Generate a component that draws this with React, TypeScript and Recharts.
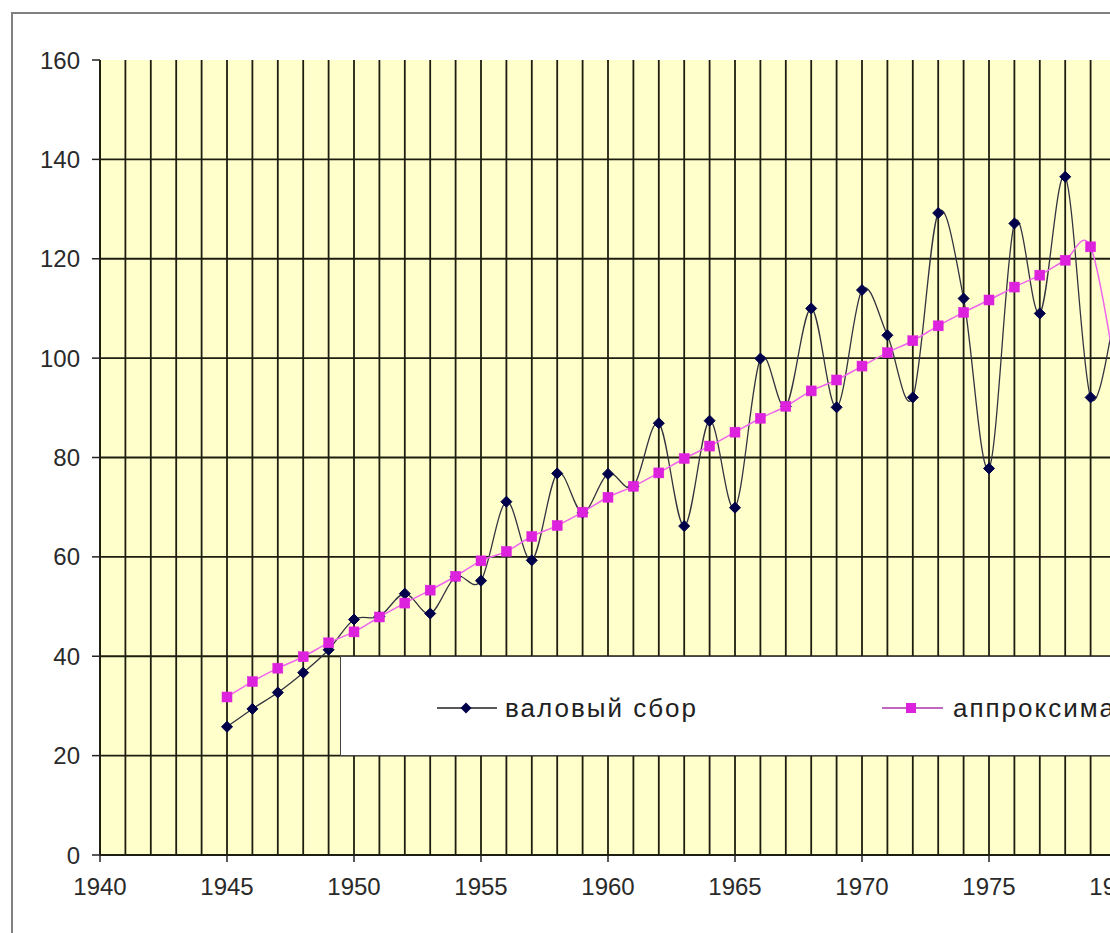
import React from "react";
import { LineChart, Line, XAxis, YAxis, CartesianGrid } from "recharts";

const years = [
  1945, 1946, 1947, 1948, 1949, 1950, 1951, 1952, 1953, 1954, 1955, 1956,
  1957, 1958, 1959, 1960, 1961, 1962, 1963, 1964, 1965, 1966, 1967, 1968,
  1969, 1970, 1971, 1972, 1973, 1974, 1975, 1976, 1977, 1978, 1979, 1980,
];
const grossHarvest = [
  25.8, 29.4, 32.7, 36.7, 41.3, 47.4, 48.0, 52.6, 48.6, 56.0, 55.2, 71.1,
  59.3, 76.8, 68.9, 76.7, 74.2, 86.9, 66.2, 87.4, 69.9, 99.9, 90.3, 110.0,
  90.1, 113.7, 104.6, 92.1, 129.2, 112.0, 77.8, 127.1, 109.0, 136.5, 92.1, 110,
];
const approximation = [
  31.8, 34.9, 37.6, 39.9, 42.7, 44.9, 47.9, 50.7, 53.3, 56.1, 59.2, 61.1,
  64.1, 66.3, 69.0, 72.0, 74.2, 76.9, 79.8, 82.3, 85.1, 87.9, 90.3, 93.4,
  95.6, 98.4, 101.1, 103.5, 106.5, 109.2, 111.7, 114.3, 116.7, 119.7, 122.4, 97,
];
const seriesNames = ["валовый сбор", "аппроксимация"];
const yTicks = [0, 20, 40, 60, 80, 100, 120, 140, 160];
const yGrid = [20, 40, 60, 80, 100, 120, 140];
const Y_MAX = 160;
const xTicks: number[] = [];
for (let y = 1940; y <= 1990; y++) xTicks.push(y);

const data = years.map((year, i) => ({
  year,
  gross: grossHarvest[i],
  approx: approximation[i],
}));

const FONT = "Arial, 'Liberation Sans', sans-serif";
const NAVY = "#00004a";
const MAGENTA = "#dd22dd";

// Excel-like smoothed line (Catmull-Rom / cardinal spline)
function smoothCurve(context: any) {
  let pts: number[][] = [];
  return {
    areaStart() {},
    areaEnd() {},
    lineStart() {
      pts = [];
    },
    point(x: number, y: number) {
      pts.push([+x, +y]);
    },
    lineEnd() {
      const n = pts.length;
      if (!n) return;
      context.moveTo(pts[0][0], pts[0][1]);
      for (let i = 0; i < n - 1; i++) {
        const p0 = pts[Math.max(i - 1, 0)];
        const p1 = pts[i];
        const p2 = pts[i + 1];
        const p3 = pts[Math.min(i + 2, n - 1)];
        context.bezierCurveTo(
          p1[0] + (p2[0] - p0[0]) / 6,
          p1[1] + (p2[1] - p0[1]) / 6,
          p2[0] - (p3[0] - p1[0]) / 6,
          p2[1] - (p3[1] - p1[1]) / 6,
          p2[0],
          p2[1]
        );
      }
    },
  };
}

const horizontalGen = (args: any) => {
  const { yAxis, offset } = args || {};
  if (yAxis && typeof yAxis.scale === "function") {
    return yGrid.map((v) => yAxis.scale(v));
  }
  return yGrid.map((v) => offset.top + offset.height * (1 - v / Y_MAX));
};

const Diamond = (props: any) => {
  const { cx, cy, index } = props;
  if (cx == null || cy == null) return <g key={`d${index}`} />;
  const r = 5.5;
  return (
    <path
      key={`d${index}`}
      d={`M${cx},${cy - r}L${cx + r},${cy}L${cx},${cy + r}L${cx - r},${cy}Z`}
      fill={NAVY}
      stroke={NAVY}
      strokeWidth={1}
    />
  );
};

const Square = (props: any) => {
  const { cx, cy, index } = props;
  if (cx == null || cy == null) return <g key={`s${index}`} />;
  const s = 5;
  return (
    <rect
      key={`s${index}`}
      x={cx - s}
      y={cy - s}
      width={2 * s}
      height={2 * s}
      fill={MAGENTA}
      stroke={MAGENTA}
      strokeWidth={0.5}
    />
  );
};

const XTick = (props: any) => {
  const { x, y, payload } = props;
  const v = payload.value;
  if (v % 5 !== 0) return <g />;
  return (
    <g>
      <line x1={x} x2={x} y1={y} y2={y + 7} stroke="#222" strokeWidth={1.5} />
      <text
        x={x}
        y={y + 40}
        textAnchor="middle"
        fontSize={24}
        fill="#2a2a2a"
        fontFamily={FONT}
      >
        {v}
      </text>
    </g>
  );
};

const LegendBox = () => (
  <div
    style={{
      position: "absolute",
      left: 340,
      top: 656,
      width: 900,
      height: 100,
      boxSizing: "border-box",
      background: "#ffffff",
      border: "1.5px solid #444",
      fontFamily: FONT,
    }}
  >
    <svg
      width={900}
      height={100}
      style={{ position: "absolute", left: -1.5, top: -1.5 }}
    >
      <line x1={97} x2={157} y1={52} y2={52} stroke="#222" strokeWidth={1.5} />
      <path d="M126,46.5L131.5,52L126,57.5L120.5,52Z" fill={NAVY} />
      <line x1={542} x2={603} y1={52} y2={52} stroke="#aa33aa" strokeWidth={1.5} />
      <rect x={566} y={47} width={10} height={10} fill={MAGENTA} />
      <text x={165} y={61} fontSize={26} letterSpacing={2} fill="#222" fontFamily={FONT}>
        {seriesNames[0]}
      </text>
      <text x={613} y={61} fontSize={26} letterSpacing={2} fill="#222" fontFamily={FONT}>
        {seriesNames[1]}
      </text>
    </svg>
  </div>
);

export default function App() {
  return (
    <div
      style={{
        position: "absolute",
        left: 0,
        top: 0,
        width: 1110,
        height: 933,
        overflow: "hidden",
        background: "#ffffff",
      }}
    >
      <div
        style={{
          position: "absolute",
          left: 11,
          top: 12,
          width: 1500,
          height: 1200,
          border: "2px solid #808080",
        }}
      />
      <div style={{ position: "absolute", left: 0, top: 0 }}>
        <LineChart
          width={1380}
          height={915}
          data={data}
          margin={{ top: 60, right: 10, bottom: 0, left: 0 }}
        >
          <CartesianGrid
            fill="#ffffcc"
            stroke="#1e1e10"
            strokeWidth={1.8}
            horizontalCoordinatesGenerator={horizontalGen}
          />
          <XAxis
            dataKey="year"
            type="number"
            domain={[1940, 1990]}
            ticks={xTicks}
            interval={0}
            height={60}
            tickSize={0}
            tickMargin={0}
            tickLine={false}
            tick={<XTick />}
            axisLine={{ stroke: "#1e1e10", strokeWidth: 1.8 }}
            allowDataOverflow
          />
          <YAxis
            type="number"
            domain={[0, Y_MAX]}
            ticks={yTicks}
            interval={0}
            width={100}
            tickSize={8}
            tickMargin={12}
            tickLine={{ stroke: "#222", strokeWidth: 1.5 }}
            axisLine={{ stroke: "#1e1e10", strokeWidth: 1.8 }}
            tick={{ fontSize: 24, fill: "#2a2a2a", fontFamily: FONT }}
          />
          <Line
            dataKey="gross"
            name={seriesNames[0]}
            type={smoothCurve as any}
            stroke="#333340"
            strokeWidth={1.3}
            dot={Diamond}
            activeDot={false}
            isAnimationActive={false}
          />
          <Line
            dataKey="approx"
            name={seriesNames[1]}
            type={smoothCurve as any}
            stroke="#ee66ee"
            strokeWidth={1.5}
            dot={Square}
            activeDot={false}
            isAnimationActive={false}
          />
        </LineChart>
      </div>
      <LegendBox />
    </div>
  );
}
